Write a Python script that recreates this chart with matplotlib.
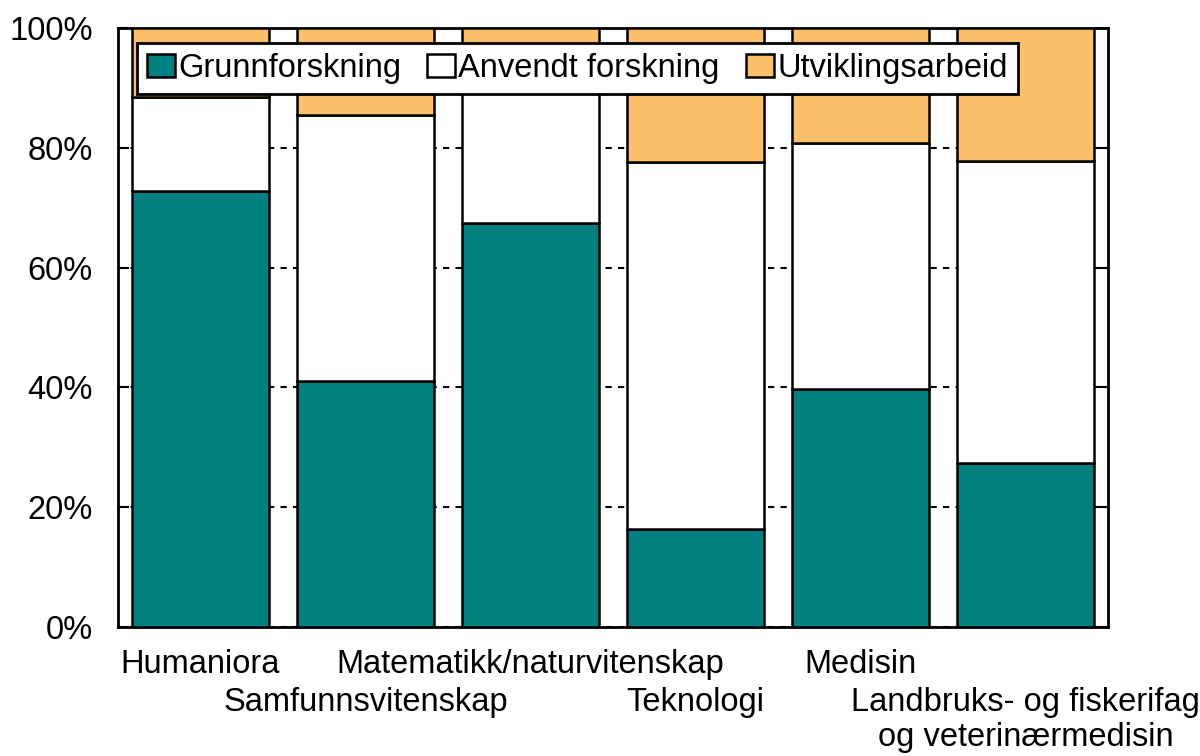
import matplotlib
matplotlib.use("Agg")
import matplotlib.pyplot as plt
import numpy as np

plt.rcParams['font.family'] = ['Liberation Sans', 'DejaVu Sans']

# Fagområder (odd ones go on the second row under the axis)
fields = ['Humaniora', 'Samfunnsvitenskap', 'Matematikk/naturvitenskap',
          'Teknologi', 'Medisin', 'Landbruks- og fiskerifag\nog veterinærmedisin']

# Share of R&D per type, percent
grunn = [72.8, 41.1, 67.4, 16.4, 39.7, 27.4]
anvendt = [15.7, 44.4, 23.6, 61.2, 41.1, 50.4]
utvikling = [11.5, 14.5, 9.0, 22.4, 19.2, 22.2]

series_names = ['Grunnforskning', 'Anvendt forskning', 'Utviklingsarbeid']
colors = ['#008080', '#ffffff', '#fdbf6a']

fs = 23.5

fig = plt.figure(figsize=(12, 7.56), dpi=100)
ax = fig.add_axes([0.0983, 0.1706, 0.825, 0.7924])

x = np.arange(len(fields))
bottom = np.zeros(len(fields))
for vals, name, col in zip([grunn, anvendt, utvikling], series_names, colors):
    ax.bar(x, vals, width=0.835, bottom=bottom, color=col, edgecolor='black',
           linewidth=1.8, label=name, zorder=3)
    bottom += np.array(vals)

ax.set_xlim(-0.5, len(fields) - 0.5)
ax.set_ylim(0, 100)
ax.set_yticks(np.arange(0, 101, 20))
ax.set_yticklabels([f'{v}%' for v in range(0, 101, 20)], fontsize=fs)

# staggered category labels: even ones as major ticks, odd ones as minor ticks one row lower
ax.set_xticks(x[::2])
ax.set_xticklabels(fields[::2], fontsize=fs)
ax.set_xticks(x[1::2], minor=True)
ax.set_xticklabels(fields[1::2], minor=True, fontsize=fs)
for lbl in ax.get_xticklabels(minor=True):
    lbl.set_linespacing(1.18)
    lbl.set_multialignment('center')
ax.tick_params(axis='x', which='major', length=0, pad=16)
ax.tick_params(axis='x', which='minor', length=0, pad=43)
ax.tick_params(axis='y', direction='in', length=8, width=1.5, right=True, pad=18)

ax.grid(axis='y', color='black', linestyle=(0, (3, 3)), linewidth=1.5, zorder=0)
for sp in ax.spines.values():
    sp.set_linewidth(2)

leg = ax.legend(loc='upper left', bbox_to_anchor=(0.019, 0.975), ncol=3,
                fontsize=fs, frameon=True, fancybox=False, framealpha=1,
                edgecolor='black', handlelength=0.86, handleheight=0.68,
                handletextpad=0.1, columnspacing=0.8, borderpad=0.3,
                borderaxespad=0)
leg.get_frame().set_linewidth(2)
leg.set_zorder(5)

fig.savefig('out.png', dpi=100)
